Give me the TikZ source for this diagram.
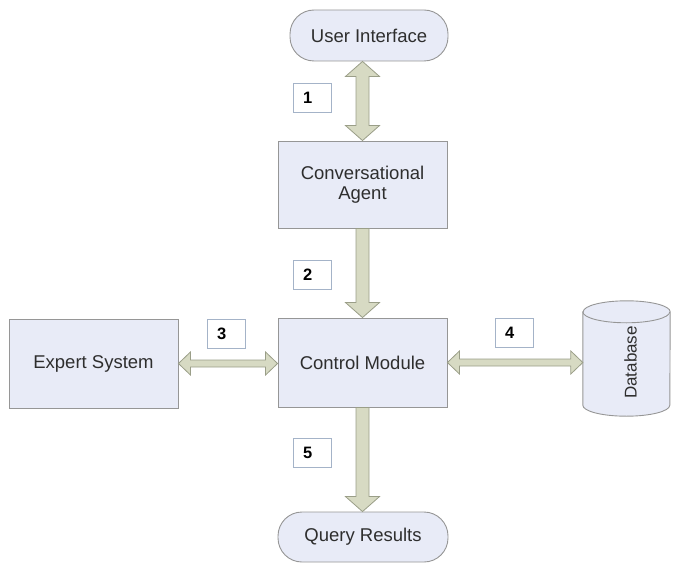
\documentclass[tikz,border=0pt]{standalone}
\usepackage{fontspec}
\setmainfont{Liberation Sans}
\usetikzlibrary{calc}

\definecolor{boxfill}{HTML}{E8EBF7}
\definecolor{boxline}{HTML}{969696}
\definecolor{txt}{HTML}{2E2E2E}
\definecolor{arrfill}{HTML}{D7DAC3}
\definecolor{arrline}{HTML}{9A9E88}
\definecolor{numline}{HTML}{A4B3C8}

\tikzset{
  block/.style={draw=boxline, fill=boxfill, line width=0.9pt, text=txt,
    font=\fontsize{18.5}{20}\selectfont, align=center, inner sep=0pt},
  terminal/.style={block, rounded corners=24pt},
  numbox/.style={draw=numline, fill=white, line width=0.9pt, text=black,
    font=\fontsize{16.5}{16.5}\bfseries\selectfont, minimum height=29pt,
    text width=18pt, inner xsep=10pt, inner ysep=0pt, align=left},
  fatarrow/.style={draw=arrline, fill=arrfill, line width=0.8pt, line join=miter},
}

% vertical two-headed fat arrow, top point #1 to bottom point #2
\newcommand\vdarrow[2]{%
  \draw[fatarrow] let \p1=(#1), \p2=(#2) in
    (\x1,\y1) -- ++(17,-15) -- ++(-10.5,0) -- (\x1+6.5pt,\y2+15pt) -- ++(10.5,0)
    -- (\x1,\y2) -- ++(-17,15) -- ++(10.5,0) -- (\x1-6.5pt,\y1-15pt) -- ++(-10.5,0) -- cycle;}
% vertical one-headed fat arrow pointing down
\newcommand\vsarrow[2]{%
  \draw[fatarrow] let \p1=(#1), \p2=(#2) in
    (\x1-6.5pt,\y1) -- (\x1+6.5pt,\y1) -- (\x1+6.5pt,\y2+15pt) -- ++(10.5,0)
    -- (\x1,\y2) -- ++(-17,15) -- ++(10.5,0) -- cycle;}
% horizontal two-headed fat arrow, left point #1 to right point #2
\newcommand\hdarrow[2]{%
  \draw[fatarrow] let \p1=(#1), \p2=(#2) in
    (\x1,\y1) -- ++(12,11.5) -- ++(0,-8) -- (\x2-12pt,\y1+3.5pt) -- ++(0,8)
    -- (\x2,\y1) -- ++(-12,-11.5) -- ++(0,8) -- (\x1+12pt,\y1-3.5pt) -- ++(0,-8) -- cycle;}

\begin{document}
\begin{tikzpicture}[x=1pt,y=1pt]
  \useasboundingbox (0,0) rectangle (676,566);

  % blocks
  \node[terminal, minimum width=158pt, minimum height=51pt] (ui) at (369,530.5) {User Interface};
  \node[block, minimum width=169pt, minimum height=87pt] (ca) at (362.5,381.5) {Conversational\\Agent};
  \node[block, minimum width=169pt, minimum height=89pt] (cm) at (362.5,203.5) {Control Module};
  \node[block, minimum width=169pt, minimum height=89pt] (es) at (93.5,202.5) {Expert System};
  \node[terminal, minimum width=170pt, minimum height=50pt] (qr) at (363,29) {Query Results};

  % database cylinder
  \node[minimum width=87pt, minimum height=93pt, inner sep=0pt] (db) at (626.5,207.5) {};
  \draw[block] (db.north west) -- (db.south west)
    arc[start angle=180, end angle=360, x radius=43.5pt, y radius=11pt]
    -- (db.north east)
    arc[start angle=0, end angle=180, x radius=43.5pt, y radius=11pt] -- cycle;
  \draw[draw=boxline, line width=0.9pt] (db.north west)
    arc[start angle=180, end angle=360, x radius=43.5pt, y radius=11pt];
  \node[text=txt, font=\fontsize{17}{17}\selectfont, rotate=90] (dbtext)
    at ([xshift=4pt,yshift=-4pt]db.center) {Database};

  % connectors
  \vdarrow{ca.north |- ui.south}{ca.north}
  \vsarrow{ca.south}{cm.north}
  \hdarrow{es.east}{cm.west |- es.east}
  \hdarrow{cm.east}{cm.east -| db.west}
  \vsarrow{cm.south}{qr.north -| cm.south}

  % step numbers
  \node[numbox] (n1) at (312,468.5) {1};
  \node[numbox] (n2) at (312,291.5) {2};
  \node[numbox] (n3) at (226,232.5) {3};
  \node[numbox] (n4) at (514,233) {4};
  \node[numbox] (n5) at (312,113.5) {5};
\end{tikzpicture}
\end{document}
